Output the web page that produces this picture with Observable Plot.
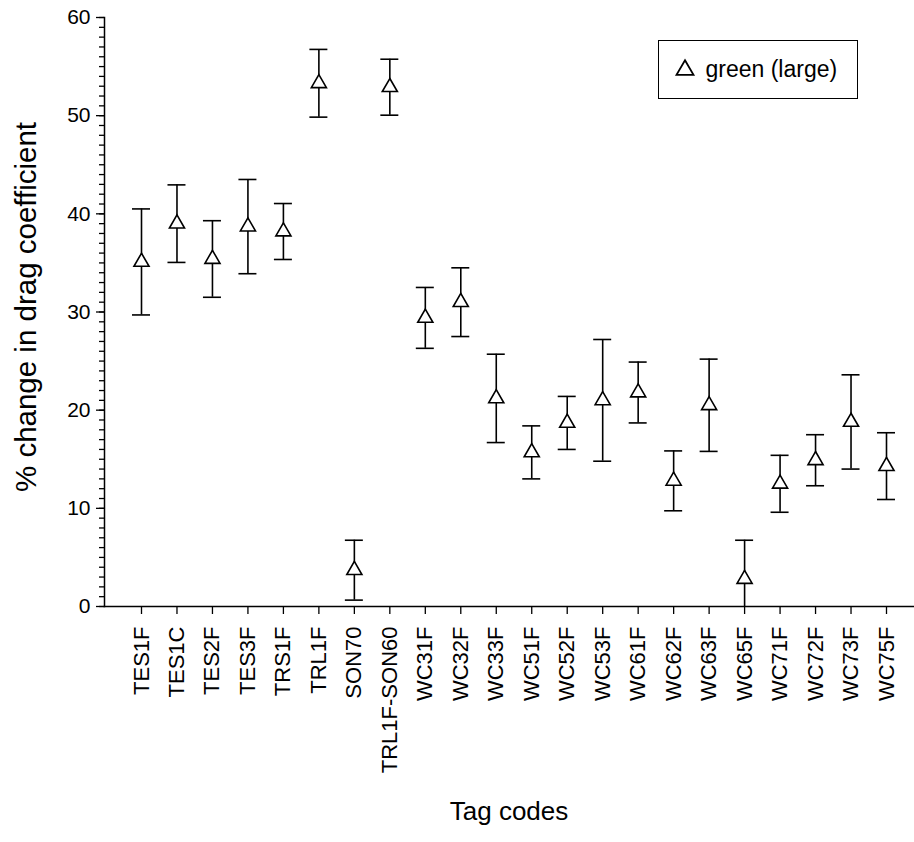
<!DOCTYPE html>
<html>
<head>
<meta charset="utf-8">
<script src="https://cdn.jsdelivr.net/npm/d3@7"></script>
<script src="https://cdn.jsdelivr.net/npm/@observablehq/plot@0.6"></script>
<style>
  html, body { margin: 0; padding: 0; background: #fff; }
  #wrap { position: relative; width: 914px; height: 842px; font-family: "Liberation Sans", Arial, sans-serif; }
  #wrap svg text { font-family: "Liberation Sans", Arial, sans-serif; fill: #000; }
  #legend { position: absolute; left: 658px; top: 40px; width: 198px; height: 57px;
            border: 1.5px solid #000; background: #fff; box-sizing: content-box;
            display: flex; align-items: center; }
  #legend div, #legend span { font-family: "Liberation Sans", Arial, sans-serif !important; font-size: 23px !important; color: #000 !important; margin: 0 !important; }
  #legend > div { margin-left: 17px !important; }
</style>
</head>
<body>
<div id="wrap"></div>
<script>
// ---- data ----
const categories = ["TES1F","TES1C","TES2F","TES3F","TRS1F","TRL1F","SON70","TRL1F-SON60",
  "WC31F","WC32F","WC33F","WC51F","WC52F","WC53F","WC61F","WC62F","WC63F","WC65F",
  "WC71F","WC72F","WC73F","WC75F"];
const means  = [35.1, 39.0, 35.4, 38.7, 38.2, 53.3, 3.7, 52.9,
  29.4, 31.0, 21.2, 15.7, 18.7, 21.0, 21.8, 12.8, 20.5, 2.8,
  12.5, 14.9, 18.8, 14.3];
const errors = [5.4, 3.95, 3.9, 4.8, 2.85, 3.45, 3.05, 2.85,
  3.1, 3.5, 4.5, 2.7, 2.7, 6.2, 3.1, 3.05, 4.7, 3.95,
  2.9, 2.6, 4.8, 3.4];
const yTicks = [0, 10, 20, 30, 40, 50, 60];
const yMinorTicks = d3.range(0, 61, 1);
const seriesName = "green (large)";
const xTitle = "Tag codes";
const yTitle = "% change in drag coefficient";

const data = categories.map((c, i) => ({cat: c, mean: means[i], lo: means[i] - errors[i], hi: means[i] + errors[i]}));

const chart = Plot.plot({
  width: 914,
  height: 842,
  marginLeft: 104,
  marginRight: 1,
  marginTop: 17,
  marginBottom: 236,
  style: {fontSize: "21px", fontFamily: "Liberation Sans, Arial, sans-serif", color: "#000", background: "#fff"},
  x: {type: "point", domain: categories, range: [141, 886], padding: 0, round: false, label: null},
  y: {domain: [0, 60], label: null},
  marks: [
    Plot.axisY({ticks: yMinorTicks, tickSize: 5, text: null, strokeWidth: 1.3, label: null}),
    Plot.axisY({ticks: yTicks, tickSize: 8, tickPadding: 6, strokeWidth: 1.3, label: null, fontSize: 21}),
    Plot.axisX({tickSize: 8, tickPadding: 12, tickRotate: -90, strokeWidth: 1.3, label: null, fontSize: 22}),
    Plot.frame({anchor: "left", strokeWidth: 1.5}),
    Plot.frame({anchor: "bottom", strokeWidth: 1.5}),
    Plot.ruleX(data, {x: "cat", y1: "lo", y2: "hi", stroke: "black", strokeWidth: 1.6, clip: true}),
    Plot.ruleY(data, {x1: "cat", x2: "cat", y: "hi", insetLeft: -9, insetRight: -9, stroke: "black", strokeWidth: 1.6, clip: true}),
    Plot.ruleY(data, {x1: "cat", x2: "cat", y: "lo", insetLeft: -9, insetRight: -9, stroke: "black", strokeWidth: 1.6, clip: true}),
    Plot.dot(data, {x: "cat", y: "mean", symbol: "triangle", r: 5.6, fill: "white", stroke: "black", strokeWidth: 1.6}),
    Plot.text([yTitle], {frameAnchor: "left", textAnchor: "middle", rotate: -90, dx: -78, dy: -5, fontSize: 29.5, text: d => d}),
    Plot.text([xTitle], {frameAnchor: "bottom", dy: 213, fontSize: 26, text: d => d})
  ]
});

const wrap = document.getElementById("wrap");
wrap.appendChild(chart);

const legendBox = document.createElement("div");
legendBox.id = "legend";
const leg = Plot.legend({
  symbol: {type: "ordinal", domain: [seriesName], range: ["triangle"]},
  fill: "white", stroke: "black", strokeWidth: 1.6, r: 5.6, swatchSize: 18,
  className: "lg"
});
legendBox.appendChild(leg);
wrap.appendChild(legendBox);
</script>
</body>
</html>
